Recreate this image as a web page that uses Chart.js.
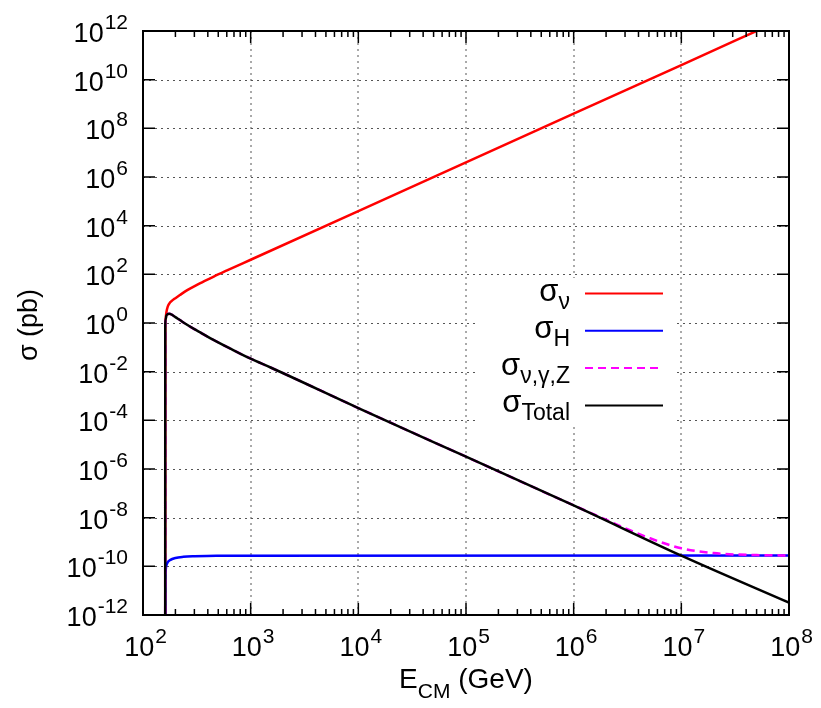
<!DOCTYPE html>
<html>
<head>
<meta charset="utf-8">
<script src="https://cdn.jsdelivr.net/npm/chart.js@4.4.0/dist/chart.umd.min.js"></script>
<style>
  html, body { margin: 0; padding: 0; background: #fff; }
  #wrap { width: 821px; height: 708px; }
</style>
</head>
<body>
<div id="wrap"><canvas id="xsec"></canvas></div>
<script>
// centre-of-mass energy (GeV) and cross section (pb)
const nuEnergy = [160.8, 161, 162, 165, 170, 178, 190, 200, 220, 260, 337, 450, 596, 1e3, 1e4, 1e5, 1e6, 1e7, 1e8];
const nuXsec   = [1e-13, 1.0, 1.6, 2.8, 4.8, 6.9, 8.9, 10.5, 14.1, 22.9, 42.7, 79.4, 141, 398, 4.0e4, 4.0e6, 4.0e8, 4.0e10, 4.0e12];

const higgsEnergy = [160.8, 161, 162, 164, 166, 170, 178, 200, 237, 300, 480, 1e8];
const higgsXsec   = [1e-13, 2.5e-11, 6.3e-11, 1.0e-10, 1.2e-10, 1.5e-10, 1.8e-10, 2.2e-10, 2.45e-10, 2.6e-10, 2.75e-10, 2.8e-10];

const nuGammaZEnergy = [160.8, 161, 162, 165, 170, 176, 185, 200, 220, 250, 300, 340, 420, 640, 1e3, 1550, 1e4, 1e5, 1e6, 2e6, 3e6, 5e6, 1e7, 2e7, 5e7, 1e8];
const nuGammaZXsec   = [1e-13, 0.8, 1.4, 2.0, 2.35, 2.4, 2.2, 1.74, 1.32, 0.91, 0.56, 0.41, 0.24, 0.091, 0.034, 0.0145, 3.2e-4, 3.2e-6, 3.2e-8, 8.2e-9, 3.7e-9, 1.48e-9, 5.5e-10, 3.5e-10, 2.9e-10, 2.8e-10];

const totalEnergy = [160.8, 161, 162, 165, 170, 176, 185, 200, 220, 250, 300, 340, 420, 640, 1e3, 1550, 1e4, 1e5, 1e6, 1e7, 1e8];
const totalXsec   = [1e-13, 0.8, 1.4, 2.0, 2.35, 2.4, 2.2, 1.74, 1.32, 0.91, 0.56, 0.41, 0.24, 0.091, 0.034, 0.0145, 3.2e-4, 3.2e-6, 3.2e-8, 2.75e-10, 3.2e-12];

const xTicks = [1e2, 1e3, 1e4, 1e5, 1e6, 1e7, 1e8];
const yTicks = [1e-12, 1e-10, 1e-8, 1e-6, 1e-4, 1e-2, 1e0, 1e2, 1e4, 1e6, 1e8, 1e10, 1e12];

// key entries: [symbol, subscript]
const keyLabels = [['σ', 'ν'], ['σ', 'H'], ['σ', 'ν,γ,Z'], ['σ', 'Total']];
const keyColors = ['#ff0000', '#0000ff', '#ff00ff', '#000000'];
const keyDashes = [[], [], [8, 5], []];

const FONT = '"Liberation Sans", Arial, sans-serif';

function toPoints(xs, ys) {
  return xs.map((x, i) => ({x: x, y: ys[i]}));
}

// "10" with a raised exponent
function drawPower(ctx, value, x, y, align) {
  const exp = String(Math.round(Math.log10(value)));
  ctx.font = '27px ' + FONT;
  const wb = ctx.measureText('10').width;
  ctx.font = '21px ' + FONT;
  const ws = ctx.measureText(exp).width;
  const left = align === 'center' ? x - (wb + ws) / 2 : x - wb - ws;
  ctx.font = '27px ' + FONT;
  ctx.fillText('10', left, y);
  ctx.font = '21px ' + FONT;
  ctx.fillText(exp, left + wb + 1, y - 13);
}

// symbol with a lowered index, right aligned
function drawIndexed(ctx, main, sub, xRight, y) {
  ctx.font = '31px ' + FONT;
  const wm = ctx.measureText(main).width;
  ctx.font = '23px ' + FONT;
  const ws = ctx.measureText(sub).width;
  const left = xRight - wm - ws;
  ctx.font = '31px ' + FONT;
  ctx.fillText(main, left, y);
  ctx.font = '23px ' + FONT;
  ctx.fillText(sub, left + wm, y + 8);
}

const gnuplotLook = {
  id: 'gnuplotLook',
  beforeDatasetsDraw(chart) {
    const {ctx, chartArea: a, scales: {x, y}} = chart;
    ctx.save();
    ctx.strokeStyle = '#555';
    ctx.lineWidth = 1;
    ctx.setLineDash([2, 4]);
    xTicks.forEach(v => {
      const px = Math.round(x.getPixelForValue(v));
      ctx.beginPath();
      ctx.moveTo(px, a.bottom);
      ctx.lineTo(px, a.top);
      ctx.stroke();
    });
    yTicks.forEach(v => {
      const py = Math.round(y.getPixelForValue(v)) + 0.5;
      ctx.beginPath();
      ctx.moveTo(a.left, py);
      ctx.lineTo(a.right, py);
      ctx.stroke();
    });
    // the key sits on a white box
    ctx.fillStyle = '#fff';
    ctx.fillRect(478, 278, 196, 145);
    ctx.restore();
  },
  afterDatasetsDraw(chart) {
    const {ctx, chartArea: a, scales: {x, y}} = chart;
    ctx.save();
    ctx.strokeStyle = '#000';
    ctx.fillStyle = '#000';
    ctx.lineWidth = 1.5;

    // inward ticks
    ctx.beginPath();
    xTicks.forEach((v, i) => {
      const px = x.getPixelForValue(v);
      ctx.moveTo(px, a.bottom); ctx.lineTo(px, a.bottom - 12);
      ctx.moveTo(px, a.top); ctx.lineTo(px, a.top + 12);
      if (i < xTicks.length - 1) {
        for (let k = 2; k <= 9; k++) {
          const pm = x.getPixelForValue(v * k);
          ctx.moveTo(pm, a.bottom); ctx.lineTo(pm, a.bottom - 6);
          ctx.moveTo(pm, a.top); ctx.lineTo(pm, a.top + 6);
        }
      }
    });
    yTicks.forEach(v => {
      const py = y.getPixelForValue(v);
      ctx.moveTo(a.left, py); ctx.lineTo(a.left + 12, py);
      ctx.moveTo(a.right, py); ctx.lineTo(a.right - 12, py);
    });
    ctx.stroke();

    // frame
    ctx.lineWidth = 2;
    ctx.strokeRect(a.left, a.top, a.right - a.left, a.bottom - a.top);

    // tick labels
    ctx.textAlign = 'left';
    ctx.textBaseline = 'alphabetic';
    xTicks.forEach(v => drawPower(ctx, v, x.getPixelForValue(v) + 2, a.bottom + 41, 'center'));
    yTicks.forEach(v => drawPower(ctx, v, a.left - 16, y.getPixelForValue(v) + 11, 'right'));

    // key
    keyLabels.forEach((lab, i) => {
      const ry = 293.5 + i * 37.3;
      drawIndexed(ctx, lab[0], lab[1], 570, ry + 7);
      ctx.save();
      ctx.strokeStyle = keyColors[i];
      ctx.lineWidth = 2;
      ctx.setLineDash(keyDashes[i]);
      ctx.beginPath();
      ctx.moveTo(585, ry);
      ctx.lineTo(663, ry);
      ctx.stroke();
      ctx.restore();
    });

    // axis titles
    ctx.font = '28px ' + FONT;
    const wE = ctx.measureText('E').width;
    const wRest = ctx.measureText(' (GeV)').width;
    ctx.font = '21px ' + FONT;
    const wCM = ctx.measureText('CM').width;
    const tx = (a.left + a.right) / 2 - (wE + wCM + wRest) / 2;
    ctx.font = '28px ' + FONT;
    ctx.fillText('E', tx, 688);
    ctx.font = '21px ' + FONT;
    ctx.fillText('CM', tx + wE, 698);
    ctx.font = '28px ' + FONT;
    ctx.fillText(' (GeV)', tx + wE + wCM, 688);

    ctx.save();
    ctx.translate(37, (a.top + a.bottom) / 2 + 2);
    ctx.rotate(-Math.PI / 2);
    ctx.textAlign = 'center';
    ctx.font = '27px ' + FONT;
    ctx.fillText('σ (pb)', 0, 0);
    ctx.restore();

    ctx.restore();
  }
};

new Chart(document.getElementById('xsec'), {
  type: 'line',
  data: {
    datasets: [
      { label: 'σ Total', data: toPoints(totalEnergy, totalXsec), borderColor: '#000000', order: 0 },
      { label: 'σ ν,γ,Z', data: toPoints(nuGammaZEnergy, nuGammaZXsec), borderColor: '#ff00ff', borderDash: [8, 5], order: 1 },
      { label: 'σ H', data: toPoints(higgsEnergy, higgsXsec), borderColor: '#0000ff', order: 2 },
      { label: 'σ ν', data: toPoints(nuEnergy, nuXsec), borderColor: '#ff0000', order: 3 }
    ]
  },
  options: {
    responsive: true,
    maintainAspectRatio: false,
    animation: false,
    elements: {
      point: { radius: 0 },
      line: { borderWidth: 2.5, fill: false, cubicInterpolationMode: 'monotone', capBezierPoints: false }
    },
    layout: { padding: { top: 31, right: 32, left: 0, bottom: 0 } },
    plugins: { legend: { display: false }, tooltip: { enabled: false } },
    scales: {
      x: {
        type: 'logarithmic', min: 1e2, max: 1e8,
        grid: { display: false }, border: { display: false }, ticks: { display: false },
        afterFit: s => { s.height = 93; }
      },
      y: {
        type: 'logarithmic', min: 1e-12, max: 1e12,
        grid: { display: false }, border: { display: false }, ticks: { display: false },
        afterFit: s => { s.width = 143; }
      }
    }
  },
  plugins: [gnuplotLook]
});
</script>
</body>
</html>
